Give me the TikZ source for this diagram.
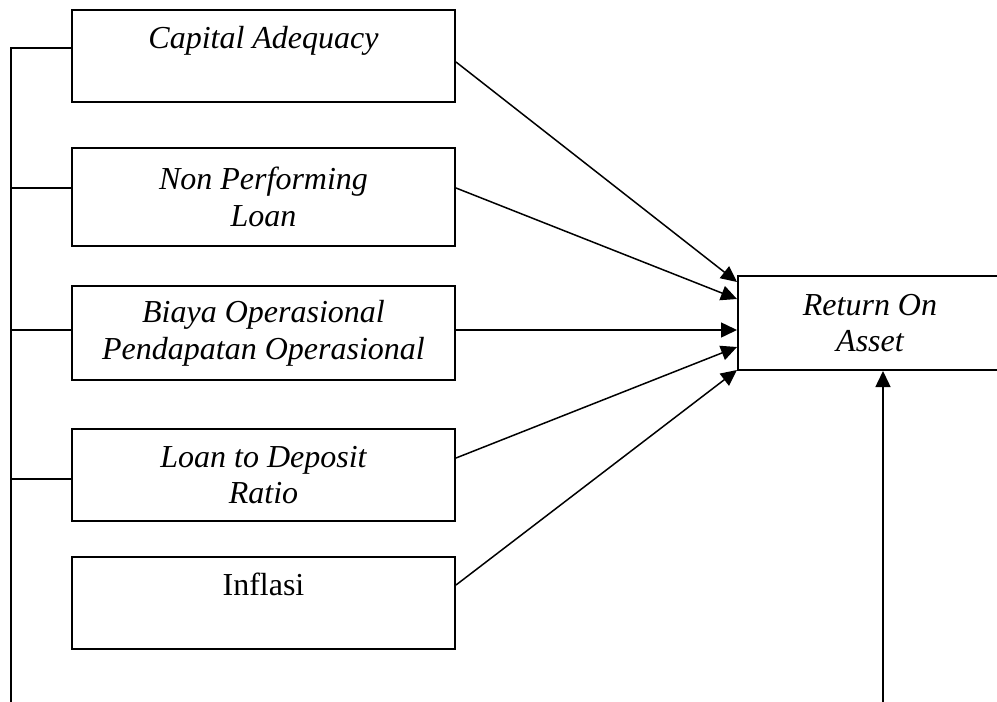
\documentclass[tikz,border=0pt]{standalone}
\usepackage{fontspec}
\setmainfont{Liberation Serif}
\usetikzlibrary{arrows.meta}

\tikzset{
  varbox/.style={draw,line width=1pt,minimum width=191.5pt,minimum height=46pt,
    inner sep=0pt,align=center,font=\fontsize{16}{18.4}\selectfont\itshape},
  link/.style={line width=0.75pt},
  effect/.style={link,-{Triangle[length=8pt,width=7.5pt]}}
}

\begin{document}
\begin{tikzpicture}[x=0.5pt,y=-0.5pt]
  \useasboundingbox (0,0) rectangle (997,702);

  % independent variables
  \node[varbox] (car)  at (263.5,56)  {Capital Adequacy\\\mbox{}};
  \node[varbox,minimum height=49pt] (npl) at (263.5,197) {Non Performing\\Loan};
  \node[varbox,minimum height=47pt] (bopo) at (263.5,333) {Biaya Operasional\\Pendapatan Operasional};
  \node[varbox] (ldr)  at (263.5,475) {Loan to Deposit\\Ratio};
  \node[varbox,font=\fontsize{16}{18.4}\selectfont] (infl) at (263.5,603) {Inflasi\\\mbox{}};

  % dependent variable (runs past the right margin)
  \node[varbox,minimum width=140pt,minimum height=47pt,anchor=west] (roa) at (737,323) {\hspace*{-8pt}Return On\\\hspace*{-8pt}Asset};

  % partial effects
  \draw[effect] ([yshift=-3pt]car.east)  -- ([yshift=20.5pt]roa.west);
  \draw[effect] ([yshift=4.5pt]npl.east) -- ([yshift=12pt]roa.west);
  \draw[effect] ([yshift=1.5pt]bopo.east) -- ([yshift=-3.5pt]roa.west);
  \draw[effect] ([yshift=8.5pt]ldr.east) -- ([yshift=-12pt]roa.west);
  \draw[effect] ([yshift=9pt]infl.east)  -- ([yshift=-23.5pt]roa.west);

  % simultaneous effect
  \coordinate (spinebot) at (11,702);
  \coordinate (simbot) at (883,702);
  \draw[link] ([yshift=4pt]car.west) -| (spinebot);
  \draw[link] ([yshift=4.5pt]npl.west) -- ++(-61,0);
  \draw[link] ([yshift=1.5pt]bopo.west) -- ++(-61,0);
  \draw[link] ([yshift=-2pt]ldr.west) -- ++(-61,0);
  \draw[effect] (simbot) -- (simbot |- roa.south);
\end{tikzpicture}
\end{document}
